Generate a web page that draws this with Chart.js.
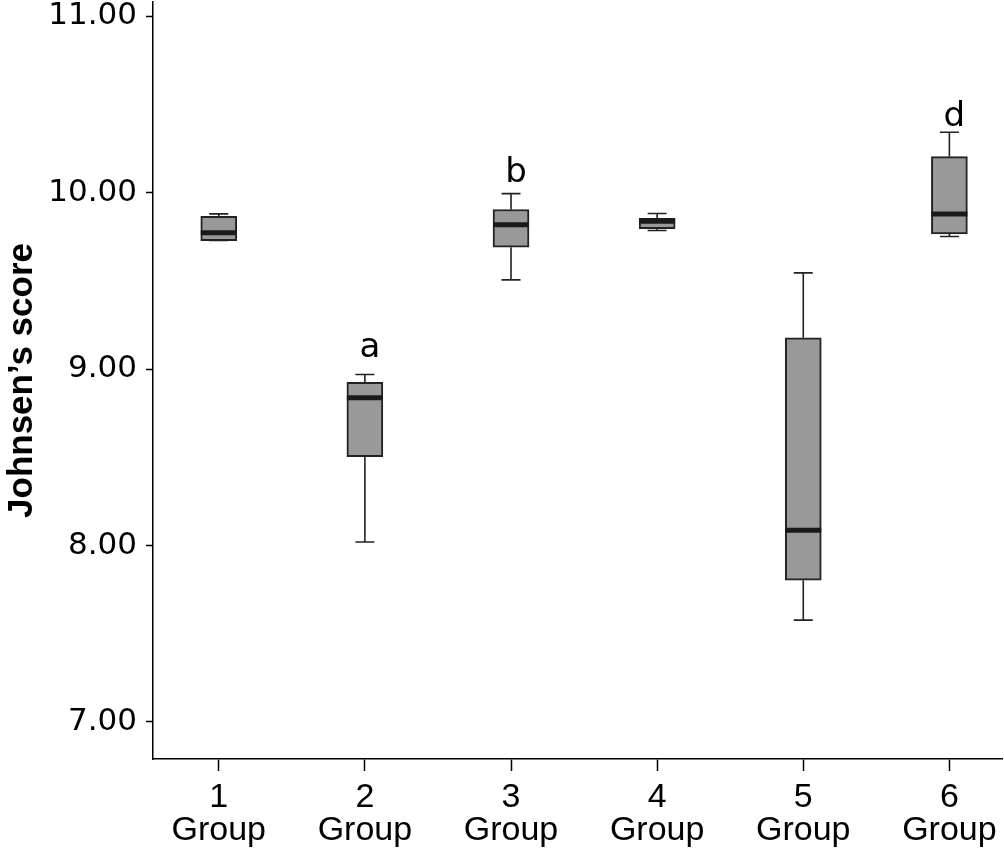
<!DOCTYPE html>
<html>
<head>
<meta charset="utf-8">
<script src="https://cdn.jsdelivr.net/npm/chart.js@4.4.1/dist/chart.umd.min.js"></script>
<style>
  html, body { margin: 0; padding: 0; background: #fff; }
  #wrap { width: 1004px; height: 856px; }
</style>
</head>
<body>
<div id="wrap"><canvas id="chart" width="1004" height="856"></canvas></div>
<script>
// values
const groups = [1, 2, 3, 4, 5, 6];
const whiskerLow = [9.728, 8.02, 9.505, 9.785, 7.577, 9.751];
const quartile1 = [9.728, 8.504, 9.69, 9.796, 7.803, 9.766];
const medians = [9.772, 8.837, 9.817, 9.837, 8.087, 9.879];
const quartile3 = [9.866, 8.925, 9.904, 9.854, 9.177, 10.204];
const whiskerHigh = [9.879, 8.969, 9.994, 9.881, 9.545, 10.342];
const yTicks = [7, 8, 9, 10, 11];
const letters = ['', 'a', 'b', '', '', 'd'];
const letterValues = [null, 9.07, 10.06, null, null, 10.375];

const INK = '#222222';

// whiskers, median bars and significance letters, placed through the scales
const boxExtras = {
  id: 'boxExtras',
  afterDatasetsDraw(chart) {
    const { ctx, scales: { x, y } } = chart;
    const meta = chart.getDatasetMeta(0);
    ctx.save();
    groups.forEach((g, i) => {
      const bar = meta.data[i];
      const cx = x.getPixelForValue(g);
      const half = bar.width / 2;
      const cap = 9.5;

      ctx.strokeStyle = INK;
      ctx.lineWidth = 1.6;
      ctx.beginPath();
      ctx.moveTo(cx, y.getPixelForValue(quartile3[i]));
      ctx.lineTo(cx, y.getPixelForValue(whiskerHigh[i]));
      ctx.moveTo(cx - cap, y.getPixelForValue(whiskerHigh[i]));
      ctx.lineTo(cx + cap, y.getPixelForValue(whiskerHigh[i]));
      ctx.moveTo(cx, y.getPixelForValue(quartile1[i]));
      ctx.lineTo(cx, y.getPixelForValue(whiskerLow[i]));
      ctx.moveTo(cx - cap, y.getPixelForValue(whiskerLow[i]));
      ctx.lineTo(cx + cap, y.getPixelForValue(whiskerLow[i]));
      ctx.stroke();

      ctx.strokeStyle = '#1a1a1a';
      ctx.lineWidth = 5;
      ctx.beginPath();
      ctx.moveTo(cx - half, y.getPixelForValue(medians[i]));
      ctx.lineTo(cx + half, y.getPixelForValue(medians[i]));
      ctx.stroke();

      if (letters[i]) {
        ctx.fillStyle = '#000';
        ctx.font = '34px "DejaVu Sans"';
        ctx.textAlign = 'center';
        ctx.textBaseline = 'alphabetic';
        ctx.fillText(letters[i], cx + 5, y.getPixelForValue(letterValues[i]));
      }
    });
    ctx.restore();
  }
};

new Chart(document.getElementById('chart'), {
  type: 'bar',
  data: {
    datasets: [{
      label: 'Johnsen\u2019s score',
      data: groups.map((g, i) => ({ x: g, y: [quartile1[i], quartile3[i]] })),
      backgroundColor: '#999999',
      borderColor: INK,
      borderWidth: 2,
      borderSkipped: false,
      barThickness: 36
    }]
  },
  options: {
    responsive: false,
    animation: false,
    layout: { padding: { top: 2, right: 2, left: 0, bottom: 0 } },
    plugins: {
      legend: { display: false },
      tooltip: { enabled: false }
    },
    scales: {
      x: {
        type: 'linear',
        min: 0.55,
        max: 6.36,
        offset: false,
        afterFit: (scale) => {
          scale.height = 97;
          scale.paddingLeft = 0;
          scale.paddingRight = 0;
        },
        afterBuildTicks: (scale) => { scale.ticks = groups.map(v => ({ value: v })); },
        grid: {
          offset: false,
          drawOnChartArea: false,
          drawTicks: true,
          tickLength: 12,
          tickWidth: 1.5,
          color: '#000'
        },
        border: { color: '#000', width: 1.5 },
        ticks: {
          color: '#000',
          padding: 10,
          maxRotation: 0,
          autoSkip: false,
          font: { family: '"Liberation Sans"', size: 34, lineHeight: 0.97 },
          callback: (v) => [String(v), 'Group']
        }
      },
      y: {
        min: 6.79,
        max: 11.08,
        afterFit: (scale) => {
          scale.width = 153;
          scale.paddingTop = 0;
          scale.paddingBottom = 0;
        },
        afterBuildTicks: (scale) => { scale.ticks = yTicks.map(v => ({ value: v })); },
        grid: {
          drawOnChartArea: false,
          drawTicks: true,
          tickLength: 7,
          tickWidth: 1.5,
          color: '#000'
        },
        border: { color: '#000', width: 1.5 },
        ticks: {
          color: '#000',
          padding: 9,
          font: { family: '"DejaVu Sans"', size: 31 },
          callback: (v) => Number(v).toFixed(2)
        },
        title: {
          display: true,
          text: 'Johnsen\u2019s score',
          color: '#000',
          padding: { top: 1, bottom: 0 },
          font: { family: '"Liberation Sans"', size: 35, weight: 'bold' }
        }
      }
    }
  },
  plugins: [boxExtras]
});
</script>
</body>
</html>
